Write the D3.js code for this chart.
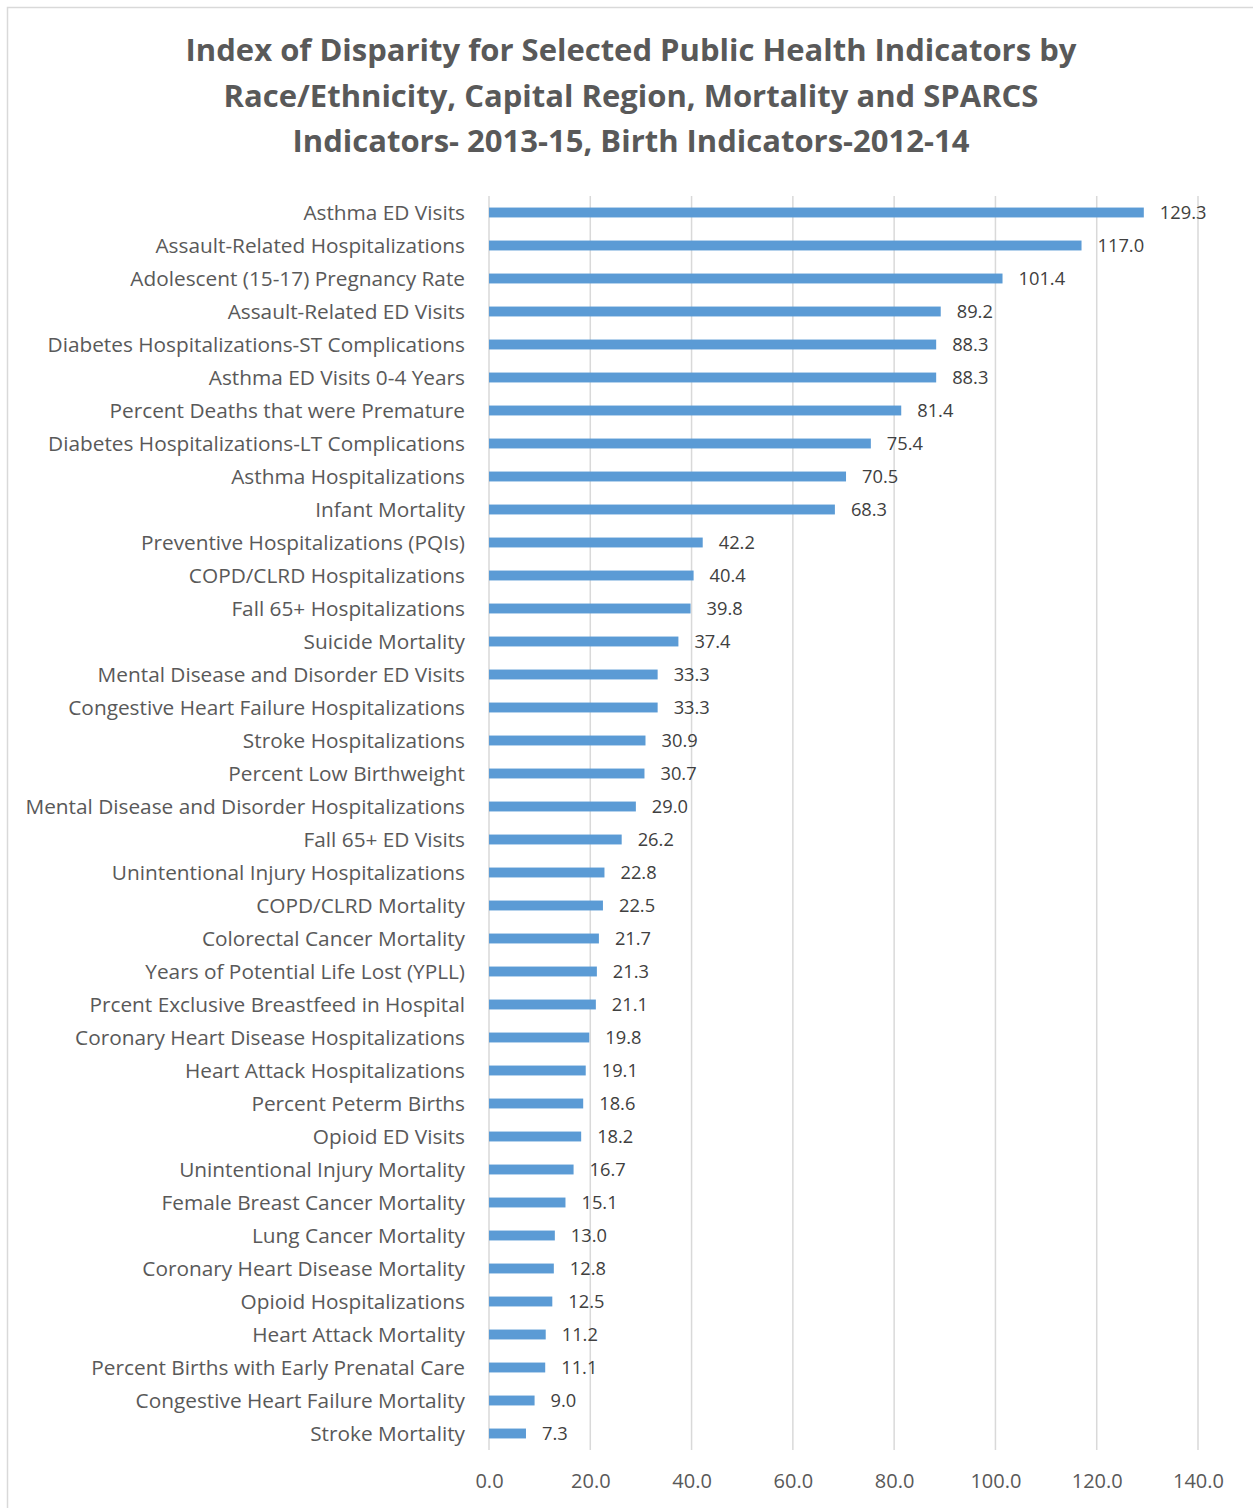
<!DOCTYPE html>
<html>
<head>
<meta charset="utf-8">
<script src="https://cdn.jsdelivr.net/npm/d3@7"></script>
<style>
  body { margin: 0; background: #fff; }
  svg { display: block; font-family: "Open Sans", sans-serif; }
</style>
</head>
<body>
<svg id="canvas"></svg>
<script>
var w = 1253;
var h = 1508;

var titleLines = [
  'Index of Disparity for Selected Public Health Indicators by',
  'Race/Ethnicity, Capital Region, Mortality and SPARCS',
  'Indicators- 2013-15, Birth Indicators-2012-14'
]

var indicators = [
  'Asthma ED Visits',
  'Assault-Related Hospitalizations',
  'Adolescent (15-17) Pregnancy Rate',
  'Assault-Related ED Visits',
  'Diabetes Hospitalizations-ST Complications',
  'Asthma ED Visits 0-4 Years',
  'Percent Deaths that were Premature',
  'Diabetes Hospitalizations-LT Complications',
  'Asthma Hospitalizations',
  'Infant Mortality',
  'Preventive Hospitalizations (PQIs)',
  'COPD/CLRD Hospitalizations',
  'Fall 65+ Hospitalizations',
  'Suicide Mortality',
  'Mental Disease and Disorder ED Visits',
  'Congestive Heart Failure Hospitalizations',
  'Stroke Hospitalizations',
  'Percent Low Birthweight',
  'Mental Disease and Disorder Hospitalizations',
  'Fall 65+ ED Visits',
  'Unintentional Injury Hospitalizations',
  'COPD/CLRD Mortality',
  'Colorectal Cancer Mortality',
  'Years of Potential Life Lost (YPLL)',
  'Prcent Exclusive Breastfeed in Hospital',
  'Coronary Heart Disease Hospitalizations',
  'Heart Attack Hospitalizations',
  'Percent Peterm Births',
  'Opioid ED Visits',
  'Unintentional Injury Mortality',
  'Female Breast Cancer Mortality',
  'Lung Cancer Mortality',
  'Coronary Heart Disease Mortality',
  'Opioid Hospitalizations',
  'Heart Attack Mortality',
  'Percent Births with Early Prenatal Care',
  'Congestive Heart Failure Mortality',
  'Stroke Mortality'
]

var disparity = [
  129.3, 117.0, 101.4, 89.2, 88.3, 88.3, 81.4, 75.4, 70.5, 68.3,
  42.2, 40.4, 39.8, 37.4, 33.3, 33.3, 30.9, 30.7, 29.0, 26.2,
  22.8, 22.5, 21.7, 21.3, 21.1, 19.8, 19.1, 18.6, 18.2, 16.7,
  15.1, 13.0, 12.8, 12.5, 11.2, 11.1, 9.0, 7.3
]

var xTicks = [0, 20, 40, 60, 80, 100, 120, 140]

var data = indicators.map((d, i) => ({name: d, value: disparity[i]}))

var svg = d3.select('#canvas')
  .attr('width', w)
  .attr('height', h)

// outer chart border
svg.append('rect')
  .attr('x', 7.5).attr('y', 7.5)
  .attr('width', w + 20).attr('height', h + 20)
  .style('fill', 'none')
  .style('stroke', '#d9d9d9')
  .style('stroke-width', 1.5)

svg.append('g')
  .selectAll('text')
  .data(titleLines)
  .enter()
  .append('text')
  .attr('x', 631)
  .attr('y', (d, i) => 61 + i * 45.5)
  .attr('text-anchor', 'middle')
  .style('font-size', '31px')
  .style('font-weight', 'bold')
  .style('fill', '#595959')
  .text(d => d)

var x = d3.scaleLinear()
  .domain([0, 140])
  .range([489, 1198])

var y = d3.scaleBand()
  .domain(indicators)
  .range([196, 1450])
  .paddingInner(0.7)
  .paddingOuter(0.35)

// gridlines
svg.append('g')
  .selectAll('line')
  .data(xTicks)
  .enter()
  .append('line')
  .attr('x1', d => x(d)).attr('x2', d => x(d))
  .attr('y1', 196).attr('y2', 1450)
  .style('stroke', '#d9d9d9')
  .style('stroke-width', 1.5)

// x axis labels
var xAxis = d3.axisBottom(x)
  .tickValues(xTicks)
  .tickFormat(d3.format('.1f'))
  .tickSize(0)
  .tickPadding(0)

var gx = svg.append('g')
  .attr('transform', 'translate(0,1488)')
  .call(xAxis)
gx.select('.domain').remove()
gx.selectAll('text')
  .attr('dy', 0)
  .style('font-family', '"Open Sans", sans-serif')
  .style('font-size', '20px')
  .style('fill', '#595959')

// y axis labels
var yAxis = d3.axisLeft(y).tickSize(0).tickPadding(0)
var gy = svg.append('g')
  .attr('transform', 'translate(465,0)')
  .call(yAxis)
gy.select('.domain').remove()
gy.selectAll('text')
  .attr('dy', '0.35em')
  .style('font-family', '"Open Sans", sans-serif')
  .style('font-size', '20.8px')
  .style('fill', '#595959')

// bars
svg.append('g')
  .selectAll('rect')
  .data(data)
  .enter()
  .append('rect')
  .attr('x', x(0))
  .attr('y', d => y(d.name))
  .attr('width', d => x(d.value) - x(0))
  .attr('height', y.bandwidth())
  .style('fill', '#5b9bd5')

// value labels
svg.append('g')
  .selectAll('text')
  .data(data)
  .enter()
  .append('text')
  .attr('x', d => x(d.value) + 16)
  .attr('y', d => y(d.name) + y.bandwidth() / 2)
  .attr('dy', '0.35em')
  .style('font-size', '18.3px')
  .style('fill', '#404040')
  .text(d => d3.format('.1f')(d.value))
</script>
</body>
</html>
